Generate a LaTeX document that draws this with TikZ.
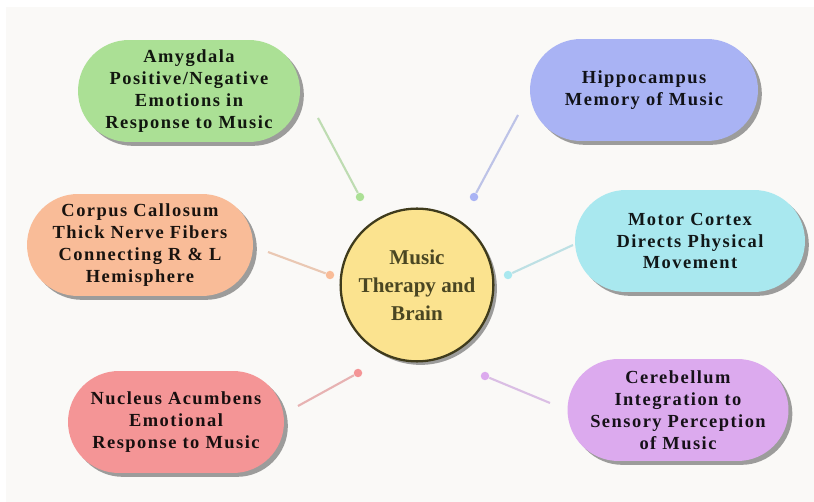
\documentclass[tikz,border=0pt]{standalone}
\usepackage{fontspec}
\setmainfont{Liberation Serif}
\newfontfamily\pillfont[LetterSpace=8]{Liberation Serif}
\usetikzlibrary{shadows}

\definecolor{bgtone}{HTML}{FAF9F7}
\definecolor{amyfill}{HTML}{ABE095}
\definecolor{hipfill}{HTML}{A9B3F4}
\definecolor{corfill}{HTML}{F9BC98}
\definecolor{motfill}{HTML}{A9E8EF}
\definecolor{nucfill}{HTML}{F49596}
\definecolor{cerfill}{HTML}{DCAAEE}
\definecolor{hubfill}{HTML}{FBE38F}
\definecolor{hubedge}{HTML}{3F3B1C}
\definecolor{hubtext}{HTML}{4A4622}

\begin{document}
\begin{tikzpicture}[x=0.02cm, y=-0.02cm,
	pill/.style={fill=#1, text=#1!10!black, align=center, inner sep=1pt,
		minimum height=2.04cm, rounded corners=1.02cm,
		font=\pillfont\bfseries\fontsize{10.5}{12.5}\selectfont,
		drop shadow={shadow xshift=2.2pt, shadow yshift=-2.2pt, fill=black!75}},
	hub/.style={circle, fill=hubfill, draw=hubedge, line width=1.3pt,
		minimum size=3cm, text=hubtext, align=center,
		font=\bfseries\fontsize{12}{16}\selectfont,
		drop shadow={shadow xshift=2pt, shadow yshift=-2pt, fill=black!75}},
	stem/.style={line width=1.2pt, draw=#1!80!gray!70!white},
	knob/.style={circle, fill=#1, inner sep=0pt, minimum size=0.17cm}]

	\fill[bgtone] (6,7) rectangle (814,502);
	\useasboundingbox (0,0) rectangle (814,502);

	\node[hub] (brain) at (417,285) {Music\\Therapy and\\Brain};

	\node[pill=amyfill, minimum width=4.44cm] (amygdala) at (189,91)
		{Amygdala\\Positive/Negative\\Emotions in\\Response to Music};
	\node[pill=hipfill, minimum width=4.56cm] (hippocampus) at (644,90)
		{Hippocampus\\Memory of Music};
	\node[pill=corfill, minimum width=4.52cm] (callosum) at (140,245)
		{Corpus Callosum\\Thick Nerve Fibers\\Connecting R \& L\\Hemisphere};
	\node[pill=motfill, minimum width=4.6cm] (motor) at (690,241)
		{Motor Cortex\\Directs Physical\\Movement};
	\node[pill=nucfill, minimum width=4.32cm] (accumbens) at (176,422)
		{Nucleus Acumbens\\Emotional\\Response to Music};
	\node[pill=cerfill, minimum width=4.42cm] (cerebellum) at (678,410)
		{Cerebellum\\Integration to\\Sensory Perception\\of Music};

	\foreach \tag/\col/\sx/\sy/\dx/\dy in {amy/amyfill/318/118/360/197,
		hip/hipfill/518/115/474/197, cor/corfill/268/252/330/275,
		mot/motfill/573/245/508/275, nuc/nucfill/298/406/358/373,
		cer/cerfill/550/403/485/376}
	{
		\coordinate (\tag-end) at (\sx,\sy);
		\node[knob=\col] (\tag-dot) at (\dx,\dy) {};
		\draw[stem=\col] (\tag-end) -- (\tag-dot);
	}

\end{tikzpicture}
\end{document}
